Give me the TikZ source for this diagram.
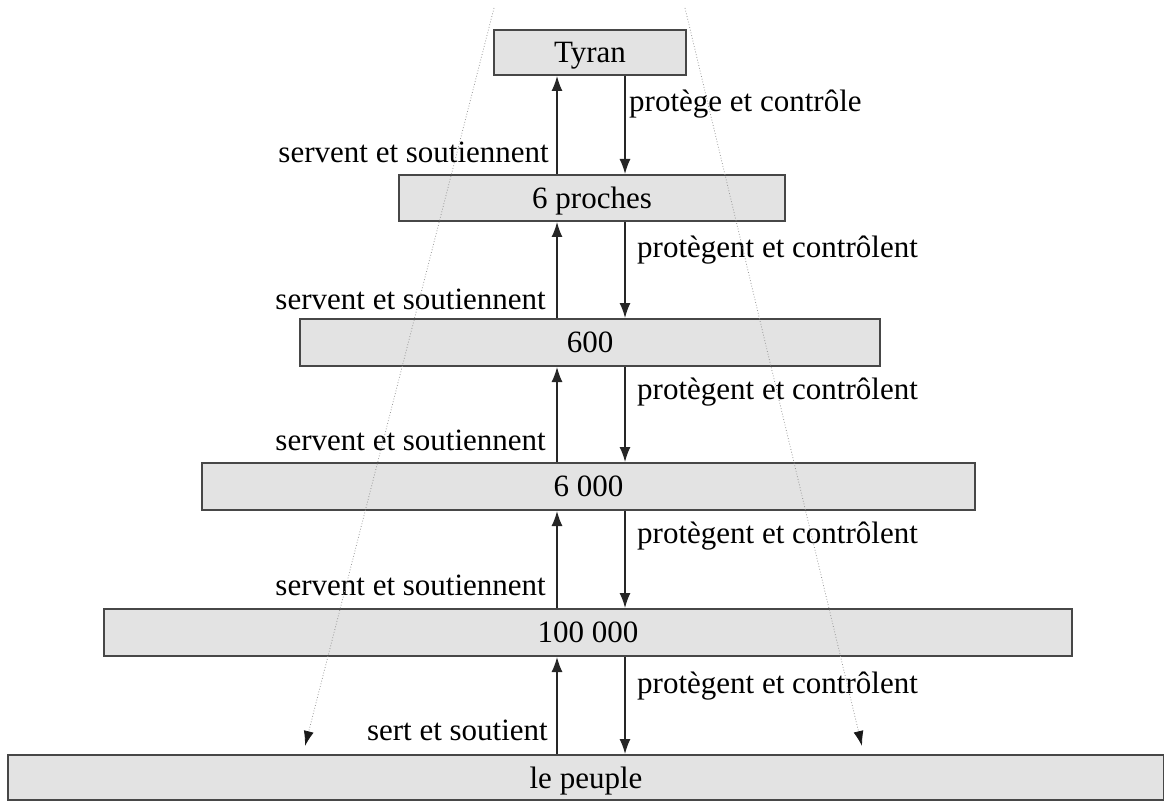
\documentclass[tikz,border=0pt]{standalone}
\usepackage{fontspec}
\setmainfont{Liberation Serif}
\usetikzlibrary{arrows.meta}
\begin{document}
\begin{tikzpicture}[x=1pt,y=-1pt,
  lvl/.style={draw=black!72,line width=2pt,fill=black!11,inner sep=0pt,text depth=0pt,font=\fontsize{31}{34}\selectfont},
  lbl/.style={inner sep=0pt,font=\fontsize{31}{34}\selectfont},
  conn/.style={line width=1.4pt,draw=black!85,-{Latex[length=15pt,width=11pt]}},
  guide/.style={black!40,line width=0.8pt,dotted,-{Latex[length=15pt,width=10pt,fill=black!90,color=black!90]}}]
\useasboundingbox (0,0) rectangle (1164,802);
\node[lvl,minimum width=192pt,minimum height=45pt] (b0) at (590,52.5) {Tyran};
\node[lvl,minimum width=386pt,minimum height=46pt] (b1) at (592,198) {6 proches};
\node[lvl,minimum width=580pt,minimum height=47pt] (b2) at (590,342.5) {600};
\node[lvl,minimum width=773pt,minimum height=47pt] (b3) at (588.5,486.5) {6 000};
\node[lvl,minimum width=968pt,minimum height=47pt] (b4) at (588,632.5) {100 000};
\node[lvl,minimum width=1156pt,minimum height=45pt] (b5) at (586,777.5) {le peuple};
\coordinate (up) at (557,0);
\coordinate (dn) at (625,0);
\foreach \lo/\hi in {b1/b0,b2/b1,b3/b2,b4/b3,b5/b4}{
  \draw[conn] (\lo.north -| up) -- (\hi.south -| up);
  \draw[conn] (\hi.south -| dn) -- (\lo.north -| dn);
}
\node[lbl,anchor=east] (s1) at (549,152) {servent et soutiennent};
\node[lbl,anchor=east] (s2) at (546,299) {servent et soutiennent};
\node[lbl,anchor=east] (s3) at (546,440) {servent et soutiennent};
\node[lbl,anchor=east] (s4) at (546,585) {servent et soutiennent};
\node[lbl,anchor=east] (s5) at (548,730) {sert et soutient};
\node[lbl,anchor=west] (p1) at (629,104) {protège et contrôle};
\node[lbl,anchor=west] (p2) at (637,250) {protègent et contrôlent};
\node[lbl,anchor=west] (p3) at (637,392) {protègent et contrôlent};
\node[lbl,anchor=west] (p4) at (637,536) {protègent et contrôlent};
\node[lbl,anchor=west] (p5) at (637,686) {protègent et contrôlent};
\coordinate (lt) at (494,8);
\coordinate (lb) at (305,746);
\coordinate (rt) at (685,8);
\coordinate (rb) at (862,746);
\draw[guide] (lt) -- (lb);
\draw[guide] (rt) -- (rb);
\end{tikzpicture}
\end{document}
